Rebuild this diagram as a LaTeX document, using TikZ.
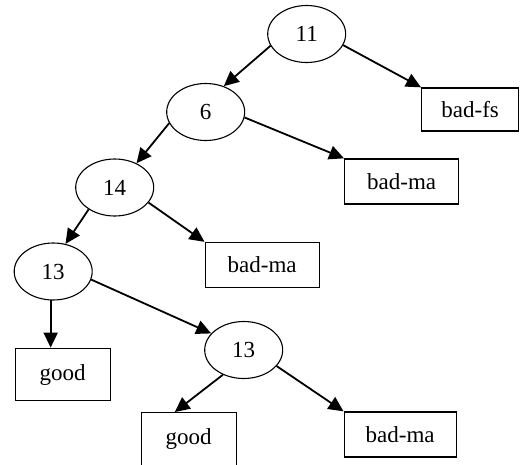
\documentclass[tikz,border=0pt]{standalone}
\usepackage{fontspec}
\setmainfont{Liberation Serif}
\usetikzlibrary{shapes.geometric, arrows.meta}
\tikzstyle{split} = [ellipse, draw, line width=1.1pt, minimum width=78pt, minimum height=57pt, inner sep=0]
\tikzstyle{leaf} = [rectangle, draw, line width=1.3pt, text centered, inner sep=0]
\tikzstyle{line} = [draw, line width=1.8pt, -{Triangle[length=15pt,width=14pt]}]

\begin{document}
\begin{tikzpicture}[node distance=80pt, font=\fontsize{23}{27}\selectfont]
\useasboundingbox (-306.7pt,34pt) rectangle (213.3pt,-430pt);

\node [split] (n11) {11};
\node [split, below of=n11, xshift=-101pt, yshift=2pt] (n6) {6};
\node [split, below of=n6, xshift=-91pt, yshift=4.5pt] (n14) {14};
\node [split, below of=n14, xshift=-61.5pt, yshift=-4pt] (n13a) {13};
\node [split, below of=n13a, xshift=190.5pt, yshift=1.5pt] (n13b) {13};

\node [leaf, minimum width=97pt, minimum height=43pt, below of=n11, xshift=163.5pt, yshift=4.5pt] (fs) {bad-fs};
\node [leaf, minimum width=114pt, minimum height=45pt, below of=n6, xshift=196pt, yshift=10.5pt] (ma1) {bad-ma};
\node [leaf, minimum width=114pt, minimum height=45pt, below of=n14, xshift=147.5pt, yshift=2.5pt] (ma2) {bad-ma};
\node [leaf, minimum width=95pt, minimum height=52.5pt, below of=n13a, xshift=9.5pt, yshift=-23pt] (g1) {good};
\node [leaf, minimum width=95pt, minimum height=52.5pt, below of=n13b, xshift=-55pt, yshift=-9pt] (g2) {good};
\node [leaf, minimum width=112pt, minimum height=45pt, below of=n13b, xshift=156.5pt, yshift=-4.5pt] (ma3) {bad-ma};

\path [line] (n11.198) -- (n6.55);
\path [line] (n11.343) -- (fs.north west);
\path [line] (n6.197) -- (n14.48);
\path [line] (n6.352) -- (ma1.north west);
\path [line] (n14.220) -- (n13a.66);
\path [line] (n14.336) -- (ma2.north west);
\path [line] (n13a.265) -- (n13a.265 |- g1.north);
\path [line] (n13a.348) -- (n13b.153);
\path [line] (n13b.230) -- ([xshift=-14pt]g2.north);
\path [line] (n13b.334) -- (ma3.north west);

\end{tikzpicture}
\end{document}
